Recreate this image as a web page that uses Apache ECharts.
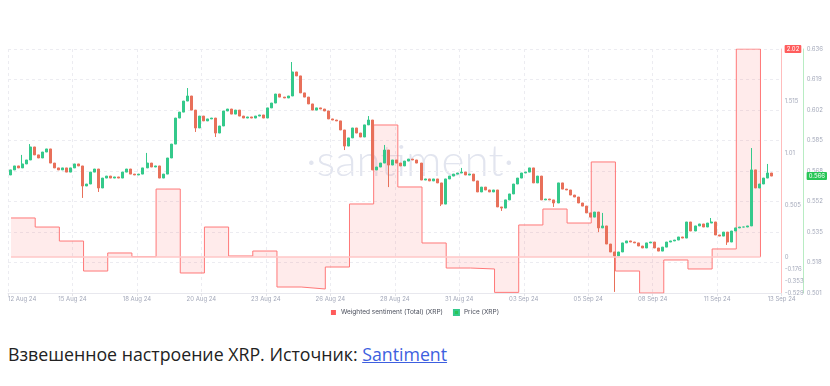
<!DOCTYPE html>
<html><head><meta charset="utf-8">
<script src="https://cdn.jsdelivr.net/npm/echarts@6/dist/echarts.min.js"></script>
<style>
html,body{margin:0;padding:0;background:#fff;}
#chart{position:absolute;left:0;top:0;width:830px;height:330px;}
#caption{position:absolute;left:8px;top:341px;font-family:'Open Sans',sans-serif;font-size:17.75px;line-height:26px;color:#222;white-space:nowrap;}
#caption a{color:#3d5fe0;text-decoration:underline;}
</style></head>
<body>
<div id="chart"></div>
<div id="caption">Взвешенное настроение XRP. Источник: <a href="#">Santiment</a></div>
<script>
// ---------- data ----------
const xTickLabels = ['12 Aug 24','15 Aug 24','18 Aug 24','20 Aug 24','23 Aug 24','26 Aug 24','28 Aug 24','31 Aug 24','03 Sep 24','05 Sep 24','08 Sep 24','11 Sep 24','13 Sep 24'];
const AXIS_START = Date.UTC(2024,7,12,21);
const X_TICK_HOURS = 64;

const sentimentFirstDay = Date.UTC(2024,7,13);
const sentiment = [0.379,0.291,0.155,-0.206,0.039,0.003,0.660,-0.235,0.291,0.010,0.058,-0.441,-0.470,-0.147,0.515,1.282,0.680,0.136,-0.162,-0.176,-0.520,0.311,0.466,0.330,0.923,-0.206,-0.529,-0.044,-0.176,0.078,2.02];
const sentTickLabels = ['-0.529','-0.353','-0.176','0','0.505','1.01','1.515','2.02'];

const priceTickLabels = ['0.501','0.518','0.535','0.552','0.568','0.585','0.602','0.619','0.636'];
const priceMin = 0.501, priceMax = 0.636;
const candleStart = Date.UTC(2024,7,12,21);
const candleHours = 4;
const firstOpen = 0.5663;
const closes = [
0.5691,0.5713,0.5702,0.5724,0.5746,0.5818,0.5774,0.5757,0.5790,0.5807,
0.5729,0.5702,0.5691,0.5702,0.5679,0.5702,0.5724,0.5713,0.5602,0.5613,
0.5679,0.5696,0.5591,0.5646,0.5657,0.5646,0.5652,0.5646,0.5679,0.5696,
0.5668,0.5663,0.5668,0.5702,0.5729,0.5707,0.5713,0.5646,0.5668,0.5757,
0.5834,0.5978,0.6011,0.6072,0.6100,0.6022,0.5923,0.5989,0.5962,0.5973,
0.5978,0.5895,0.5934,0.6017,0.6028,0.6000,0.6022,0.5989,0.5978,0.5984,
0.5978,0.5989,0.5995,0.5978,0.6034,0.6061,0.6111,0.6094,0.6089,0.6100,
0.6233,0.6211,0.6117,0.6094,0.6056,0.6022,0.6034,0.6028,0.6017,0.5973,
0.5967,0.5962,0.5912,0.5823,0.5868,0.5923,0.5895,0.5873,0.5940,0.5967,
0.5691,0.5707,0.5729,0.5801,0.5718,0.5746,0.5729,0.5713,0.5740,0.5751,
0.5746,0.5729,0.5635,0.5641,0.5630,0.5641,0.5619,0.5502,0.5641,0.5657,
0.5668,0.5674,0.5679,0.5663,0.5668,0.5630,0.5569,0.5596,0.5580,0.5569,
0.5580,0.5486,0.5480,0.5525,0.5558,0.5613,0.5646,0.5674,0.5679,0.5702,
0.5619,0.5657,0.5525,0.5530,0.5525,0.5508,0.5619,0.5585,0.5580,0.5552,
0.5541,0.5508,0.5491,0.5453,0.5430,0.5458,0.5370,0.5381,0.5281,0.5237,
0.5215,0.5237,0.5287,0.5298,0.5292,0.5287,0.5270,0.5259,0.5287,0.5292,
0.5259,0.5242,0.5264,0.5292,0.5298,0.5303,0.5320,0.5314,0.5403,0.5353,
0.5381,0.5392,0.5375,0.5397,0.5403,0.5331,0.5325,0.5347,0.5292,0.5353,
0.5370,0.5375,0.5375,0.5381,0.5691,0.5591,0.5613,0.5646,0.5674,0.5657];
const wickHigh = {3:0.5774,5:0.5834,34:0.5785,44:0.6144,70:0.6288,89:0.5989,93:0.5829,112:0.5702,147:0.5453,174:0.5425,184:0.5812,188:0.5724};
const wickLow = {18:0.5536,22:0.5569,46:0.5901,51:0.5873,83:0.5801,94:0.5596,107:0.5491,122:0.5464,135:0.5486,146:0.5347,150:0.5016,178:0.5276};

// ---------- derived ----------
const H = 3600e3;
const hoursOf = t => (t - AXIS_START) / H;

// sentiment axis: positive and negative halves scaled separately (as in the reference)
const SENT_MIN = parseFloat(sentTickLabels[0]);
const SENT_MAX = parseFloat(sentTickLabels[sentTickLabels.length - 1]);
const POS_SPAN = 208, NEG_SPAN = 36;
const sMap = v => v >= 0 ? v / SENT_MAX * POS_SPAN : v / (-SENT_MIN) * NEG_SPAN;
const sentTickVals = sentTickLabels.map(s => sMap(parseFloat(s)));

const sentData = sentiment.map((v, i) => [hoursOf(sentimentFirstDay + i * 24 * H), sMap(v)]);
const sentEnd = hoursOf(sentimentFirstDay + sentiment.length * 24 * H);
sentData.push([sentEnd, sMap(sentiment[sentiment.length - 1])]);
sentData.push([sentEnd, 0]);

const candles = closes.map((c, i) => {
  const o = i === 0 ? firstOpen : closes[i - 1];
  let hi = Math.max(o, c), lo = Math.min(o, c);
  if (wickHigh[i] !== undefined) hi = Math.max(hi, wickHigh[i]);
  if (wickLow[i] !== undefined) lo = Math.min(lo, wickLow[i]);
  return [hoursOf(candleStart + (i + 0.5) * candleHours * H), o, c, lo, hi];
});
const lastClose = closes[closes.length - 1];
const priceTickVals = priceTickLabels.map((_, i) => priceMin + (priceMax - priceMin) * i / (priceTickLabels.length - 1));

const labelColor = '#a4a9ba';
const FONT = 'Inter, Roboto, sans-serif';
const chart = echarts.init(document.getElementById('chart'), null, {renderer: 'canvas'});
chart.setOption({
  animation: false,
  backgroundColor: '#fff',
  textStyle: {fontFamily: FONT},
  grid: {left: 8, right: 45, top: 49, bottom: 37},
  graphic: [{
    type: 'text', z: -10, silent: true,
    style: {x: 410, y: 162, text: '·santiment·', fill: '#e2e5ef', font: '300 44px Lato, sans-serif', align: 'center', verticalAlign: 'middle'}
  }],
  legend: {
    left: 'center', top: 304, itemWidth: 5, itemHeight: 5, itemGap: 10, icon: 'rect',
    textStyle: {fontSize: 6.5, color: '#4b4f5c', fontFamily: FONT},
    data: [
      {name: 'Weighted sentiment (Total) (XRP)', itemStyle: {color: '#ff5b5b'}},
      {name: 'Price (XRP)', itemStyle: {color: '#28c653'}}
    ]
  },
  xAxis: {
    type: 'value', min: 0, max: X_TICK_HOURS * (xTickLabels.length - 1), interval: X_TICK_HOURS,
    axisLine: {show: true, onZero: false, lineStyle: {color: '#e8e8ee'}},
    axisTick: {show: true, length: 3, lineStyle: {color: '#e3e3e8'}},
    axisLabel: {color: labelColor, fontSize: 6, margin: 3, alignMinLabel: 'left',
      formatter: v => xTickLabels[Math.round(v / X_TICK_HOURS)] || ''},
    splitLine: {show: true, lineStyle: {color: '#ececf1', type: [3, 3]}}
  },
  yAxis: [
    {
      type: 'value', position: 'right', offset: 0, min: -NEG_SPAN, max: POS_SPAN,
      axisLine: {show: true, onZero: false, lineStyle: {color: '#ffbdbd'}},
      axisTick: {show: false}, splitLine: {show: false},
      axisLabel: {
        customValues: sentTickVals, color: labelColor, fontSize: 6, margin: 3,
        formatter: v => {
          const i = sentTickVals.findIndex(t => Math.abs(t - v) < 1e-6);
          if (i < 0) return '';
          return i === sentTickVals.length - 1 ? '{badge|' + sentTickLabels[i] + '}' : sentTickLabels[i];
        },
        rich: {badge: {backgroundColor: '#ff5d5d', color: '#fff', fontSize: 6, padding: [1, 2], borderRadius: 1}}
      }
    },
    {
      type: 'value', position: 'right', offset: 22, min: priceMin, max: priceMax,
      axisLine: {show: true, onZero: false, lineStyle: {color: '#b8ecc3'}},
      axisTick: {show: false}, splitLine: {show: false},
      axisLabel: {
        customValues: priceTickVals.concat([lastClose]), color: labelColor, fontSize: 6, margin: 3,
        formatter: v => {
          if (Math.abs(v - lastClose) < 1e-9) return '{badge|' + lastClose.toFixed(3) + '}';
          const i = priceTickVals.findIndex(t => Math.abs(t - v) < 1e-9);
          return i < 0 ? '' : priceTickLabels[i];
        },
        rich: {badge: {backgroundColor: '#27c656', color: '#fff', fontSize: 6, padding: [1, 2], borderRadius: 1}}
      }
    },
    {
      type: 'value', position: 'left', min: 0, max: priceTickLabels.length - 1, interval: 1,
      axisLine: {show: false, onZero: false}, axisTick: {show: false}, axisLabel: {show: false},
      splitLine: {show: true, lineStyle: {color: '#ececf1', type: [3, 3]}}
    }
  ],
  series: [
    {
      name: 'Weighted sentiment (Total) (XRP)', type: 'line', yAxisIndex: 0, step: 'end',
      data: sentData, symbol: 'none',
      lineStyle: {color: '#ff7878', width: 1},
      itemStyle: {color: '#ff5b5b'},
      areaStyle: {color: 'rgba(255,110,110,0.2)'},
      markLine: {
        silent: true, symbol: 'none', label: {show: false},
        lineStyle: {color: '#ffc7c7', width: 1.5, type: 'solid'},
        data: [[{coord: [sentData[0][0], 0]}, {coord: [sentEnd, 0]}]]
      },
      z: 2
    },
    {
      name: 'Price (XRP)', type: 'candlestick', yAxisIndex: 1,
      encode: {x: 0, y: [1, 2, 3, 4]},
      data: candles, barWidth: 2.5,
      itemStyle: {color: '#34c98b', color0: '#e8705a', borderColor: '#34c98b', borderColor0: '#e8705a', borderWidth: 1},
      z: 3
    }
  ]
});
</script>
</body></html>
